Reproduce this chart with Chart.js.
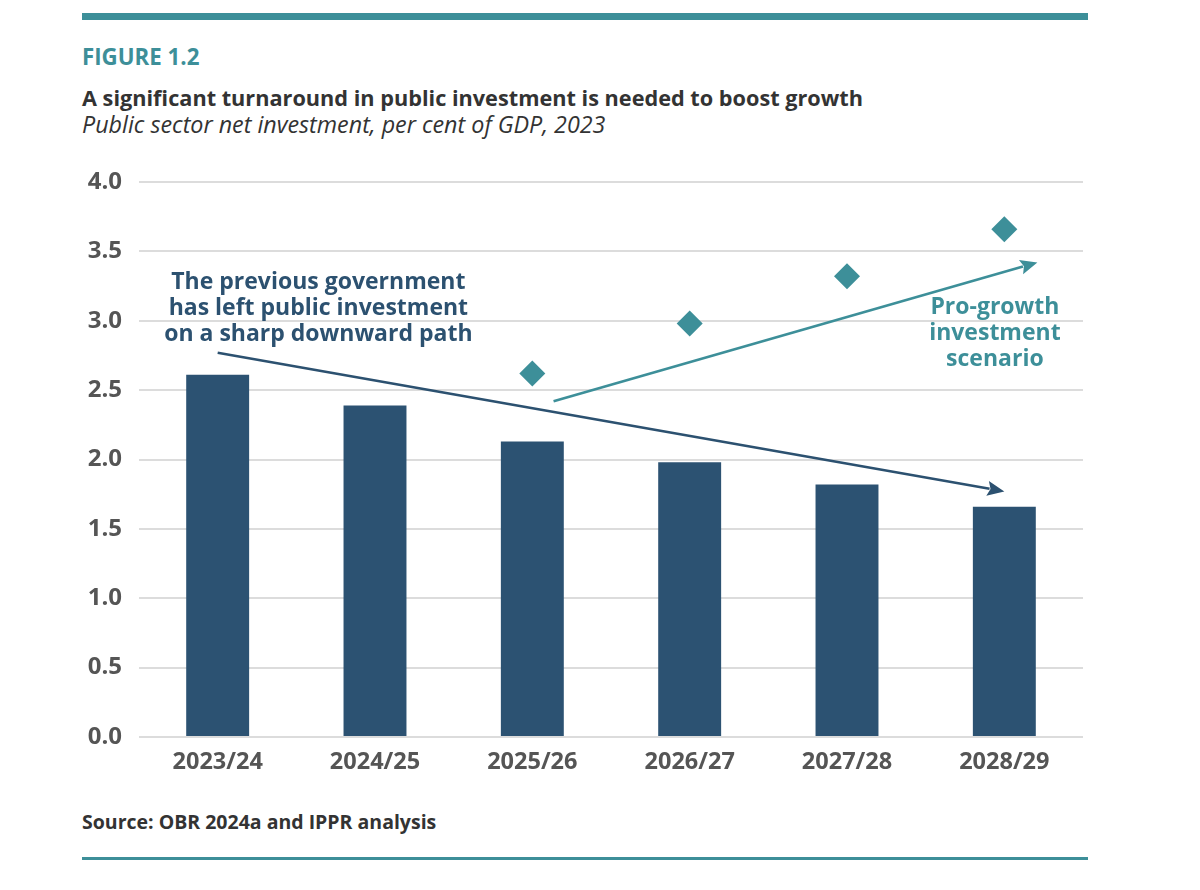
<!DOCTYPE html>
<html>
<head>
<meta charset="utf-8">
<script src="https://cdn.jsdelivr.net/npm/chart.js@4.4.1/dist/chart.umd.min.js"></script>
<style>
  html, body { margin: 0; padding: 0; background: #ffffff; }
  body { width: 1200px; height: 890px; position: relative; overflow: hidden; font-family: 'Open Sans', 'Noto Sans', sans-serif; }
  .rule-top { position: absolute; left: 82px; top: 13px; width: 1006px; height: 7px; background: #3d8f99; }
  .rule-bottom { position: absolute; left: 82px; top: 857px; width: 1006px; height: 3px; background: #3d8f99; }
  .fig { position: absolute; left: 82px; top: 42px; font-size: 22.3px; font-weight: 700; color: #3d8f99; line-height: 30px; white-space: nowrap; }
  .title { position: absolute; left: 82px; top: 83px; font-size: 21.7px; font-weight: 700; color: #333333; line-height: 30px; white-space: nowrap; }
  .subtitle { position: absolute; left: 82px; top: 109px; font-size: 23.3px; font-style: italic; color: #333333; line-height: 30px; white-space: nowrap; }
  .source { position: absolute; left: 82px; top: 808px; font-size: 19.5px; font-weight: 700; color: #333333; line-height: 28px; white-space: nowrap; }
  #c { position: absolute; left: 0; top: 0; }
</style>
</head>
<body>
<div class="rule-top"></div>
<div class="fig">FIGURE 1.2</div>
<div class="title">A significant turnaround in public investment is needed to boost growth</div>
<div class="subtitle">Public sector net investment, per cent of GDP, 2023</div>
<div class="source">Source: OBR 2024a and IPPR analysis</div>
<div class="rule-bottom"></div>
<canvas id="c" width="1200" height="890"></canvas>
<script>
// ---- data ----
const categories = ['2023/24', '2024/25', '2025/26', '2026/27', '2027/28', '2028/29'];
const currentPath = [2.61, 2.39, 2.13, 1.98, 1.82, 1.66];
const proGrowth = [null, null, 2.62, 2.98, 3.32, 3.66];
const yTicks = [0, 0.5, 1.0, 1.5, 2.0, 2.5, 3.0, 3.5, 4.0];

// ---- annotations (in data coordinates: category index, value) ----
const NAVY = '#2c5170';
const TEAL = '#3d8f99';
const FONT = "'Open Sans', 'Noto Sans', sans-serif";
const annotations = {
  arrows: [
    { from: [0, 2.77], to: [5, 1.77], color: NAVY },
    { from: [2.135, 2.42], to: [5.21, 3.42], color: TEAL }
  ],
  texts: [
    { at: [0.64, 3.275], lines: ['The previous government', 'has left public investment', 'on a sharp downward path'], color: NAVY, step: 0.1875 },
    { at: [4.94, 3.095], lines: ['Pro-growth', 'investment', 'scenario'], color: TEAL, step: 0.1875 }
  ]
};

const annotationPlugin = {
  id: 'annot',
  afterDatasetsDraw(chart) {
    const { ctx, scales } = chart;
    const xs = scales.x, ys = scales.y;
    ctx.save();
    annotations.arrows.forEach(a => {
      const x1 = xs.getPixelForValue(a.from[0]), y1 = ys.getPixelForValue(a.from[1]);
      const x2 = xs.getPixelForValue(a.to[0]), y2 = ys.getPixelForValue(a.to[1]);
      const ang = Math.atan2(y2 - y1, x2 - x1);
      const headLen = 17, headW = 7.5;
      const bx = x2 - headLen * Math.cos(ang), by = y2 - headLen * Math.sin(ang);
      ctx.strokeStyle = a.color; ctx.fillStyle = a.color; ctx.lineWidth = 2.6;
      ctx.beginPath(); ctx.moveTo(x1, y1); ctx.lineTo(bx + 2 * Math.cos(ang), by + 2 * Math.sin(ang)); ctx.stroke();
      ctx.beginPath();
      ctx.moveTo(x2, y2);
      ctx.lineTo(bx + headW * Math.sin(ang), by - headW * Math.cos(ang));
      ctx.lineTo(bx + 3 * Math.cos(ang), by + 3 * Math.sin(ang));
      ctx.lineTo(bx - headW * Math.sin(ang), by + headW * Math.cos(ang));
      ctx.closePath(); ctx.fill();
    });
    annotations.texts.forEach(t => {
      ctx.fillStyle = t.color;
      ctx.font = "700 23px " + FONT;
      ctx.textAlign = 'center'; ctx.textBaseline = 'middle';
      const x = xs.getPixelForValue(t.at[0]);
      t.lines.forEach((ln, i) => {
        ctx.fillText(ln, x, ys.getPixelForValue(t.at[1] - i * t.step));
      });
    });
    ctx.restore();
  }
};

new Chart(document.getElementById('c'), {
  data: {
    labels: categories,
    datasets: [
      {
        type: 'line', label: 'Pro-growth investment scenario', data: proGrowth,
        showLine: false, pointStyle: 'rectRot', pointRadius: 13, pointHoverRadius: 13,
        backgroundColor: TEAL, borderColor: TEAL, borderWidth: 0, order: 0
      },
      {
        type: 'bar', label: 'Public sector net investment', data: currentPath,
        backgroundColor: '#2c5272', barPercentage: 0.4, categoryPercentage: 1.0, order: 1
      }
    ]
  },
  plugins: [annotationPlugin],
  options: {
    responsive: false,
    maintainAspectRatio: false,
    animation: false,
    devicePixelRatio: 1,
    layout: { padding: { top: 182, right: 117, bottom: 103, left: 0 } },
    plugins: { legend: { display: false }, tooltip: { enabled: false }, title: { display: false } },
    scales: {
      x: {
        grid: { display: false, drawTicks: false },
        border: { display: false },
        ticks: { color: '#555555', font: { family: FONT, size: 23.5, weight: '700' }, padding: 11, maxRotation: 0 },
        afterFit(axis) { axis.height = 50; }
      },
      y: {
        min: 0, max: 4,
        afterBuildTicks(axis) { axis.ticks = yTicks.map(v => ({ value: v })); },
        grid: { color: '#dcdcdc', lineWidth: 2, drawTicks: false },
        border: { display: false },
        ticks: { color: '#555555', font: { family: FONT, size: 24, weight: '700' }, padding: 17,
                 callback: v => Number(v).toFixed(1) },
        afterFit(axis) { axis.width = 139; }
      }
    }
  }
});
</script>
</body>
</html>
